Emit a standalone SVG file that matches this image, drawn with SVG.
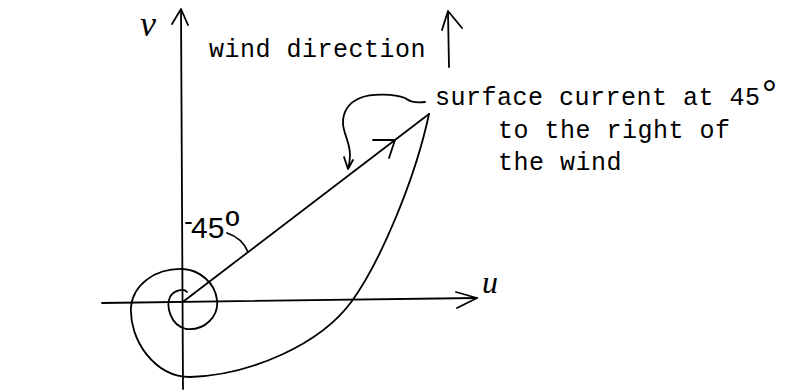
<svg xmlns="http://www.w3.org/2000/svg" width="791" height="390" viewBox="0 0 791 390">
<style>
.ln{fill:none;stroke:#000;stroke-width:1.8;stroke-linecap:round;stroke-linejoin:round}
.tw{font-family:"Liberation Mono","Courier New",monospace;font-size:25px;fill:#000;letter-spacing:0.5px}
.hw{font-family:"Liberation Serif",serif;font-style:italic;fill:#000}
.hs{font-family:"Liberation Sans",Arial,sans-serif;fill:#000}
</style>
<rect width="791" height="390" fill="#fff"/>
<g id="connectors">
<g id="v-axis">
<path class="ln" d="M181,10 L183,389"/>
<path class="ln" d="M172,24 L181,9 L188,25"/>
</g>
<g id="u-axis">
<path class="ln" d="M102,303 L477,298"/>
<path class="ln" d="M456,292 L477,298 L457,308"/>
</g>
<g id="wind-arrow">
<path class="ln" d="M448,12 L449,67"/>
<path class="ln" d="M442,30 L448,11 L462,28"/>
</g>
<g id="current-vector">
<path class="ln" d="M184,301 L429,114"/>
<path class="ln" d="M373,140 L395,140 L389,158"/>
</g>
<g id="spiral">
<path class="ln" d="M187,292 C184,288 174,290 170,297 C166,306 170,325 186,329 C205,331 219,316 217,300 C215,283 200,270 183,269 C155,268 133,285 131,307 C129,340 155,377 190,377 C250,375 320,345 352,301 C380,262 415,180 429,114"/>
</g>
<g id="pointer">
<path class="ln" d="M425,102 C418,103 410,102 405,98 C395,94 372,93 360,98 C348,103 343,112 343,123 C343,133 350,142 350,155 C350,160 349,165 348,168"/>
<path class="ln" d="M344,157 L348,169 L353,160"/>
</g>
<g id="angle-arc">
<path class="ln" d="M186,223 L191,223"/>
<path class="ln" d="M227,233 C236,236 244,242 248,252"/>
</g>
</g>
<g id="label-v"><text class="hw" x="140" y="36" font-size="36">v</text></g>
<g id="label-u"><text class="hw" x="482" y="293" font-size="32">u</text></g>
<g id="label-wind"><text class="tw" x="209" y="57">wind direction</text></g>
<g id="label-current">
<text class="tw" x="435" y="105">surface current at 45<tspan x="758" y="106" font-size="38">°</tspan></text>
<text class="tw" x="498" y="138">to the right of</text>
<text class="tw" x="498" y="170">the wind</text>
</g>
<g id="label-angle"><text class="hs" x="191" y="238" font-size="30">45<tspan font-size="38" dx="1">º</tspan></text></g>
</svg>
